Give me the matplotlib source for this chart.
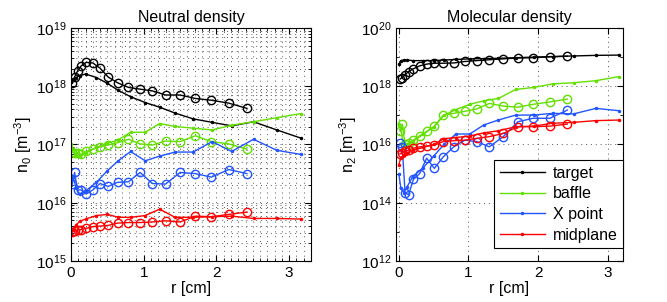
import numpy as np
import matplotlib
matplotlib.use('Agg')
from matplotlib import pyplot as plt
from matplotlib.ticker import LogLocator, MultipleLocator, NullFormatter

plt.rcParams['font.family'] = ['Liberation Sans', 'DejaVu Sans']
plt.rcParams['mathtext.fontset'] = 'custom'
plt.rcParams['mathtext.rm'] = 'Liberation Sans'
plt.rcParams['mathtext.it'] = 'Liberation Sans'

# radial grids (cm)
r_line = [0, 0.03, 0.07, 0.12, 0.2, 0.35, 0.5, 0.65, 0.82, 1.02, 1.22, 1.43, 1.68, 1.94, 2.21, 2.51, 2.83, 3.16]
r_circ = [0.02, 0.05, 0.09, 0.14, 0.21, 0.30, 0.40, 0.51, 0.64, 0.79, 0.95, 1.12, 1.30, 1.50, 1.71, 1.93, 2.17, 2.42]

# neutral density, log10(n0)
n0_target = [18.08, 18.12, 18.15, 18.18, 18.21, 18.15, 18.05, 17.93, 17.82, 17.72, 17.64, 17.54, 17.44, 17.38, 17.32, 17.39, 17.25, 17.11]
n0_baffle = [17.0, 16.92, 16.8, 16.8, 16.85, 16.95, 17.02, 17.08, 17.21, 17.21, 17.36, 17.31, 17.28, 17.25, 17.33, 17.39, 17.46, 17.53]
n0_xpoint = [16.3, 16.45, 16.25, 16.15, 16.2, 16.35, 16.55, 16.72, 16.88, 16.72, 16.8, 16.87, 16.87, 17.05, 16.88, 17.09, 16.9, 16.83]
n0_midplane = [15.45, 15.55, 15.62, 15.68, 15.72, 15.78, 15.8, 15.75, 15.75, 15.78, 15.89, 15.75, 15.75, 15.76, 15.77, 15.73, 15.73, 15.72]

n0c_target = [18.05, 18.16, 18.26, 18.35, 18.41, 18.40, 18.31, 18.16, 18.06, 17.98, 17.95, 17.92, 17.85, 17.85, 17.79, 17.76, 17.71, 17.62]
n0c_baffle = [16.87, 16.85, 16.86, 16.83, 16.88, 16.92, 16.96, 16.99, 17.03, 17.09, 17.01, 16.99, 17.06, 17.05, 17.15, 17.05, 17.01, 16.92]
n0c_xpoint = [16.33, 16.52, 16.22, 16.22, 16.15, 16.22, 16.33, 16.28, 16.35, 16.36, 16.52, 16.33, 16.32, 16.52, 16.50, 16.44, 16.57, 16.50]
n0c_midplane = [15.50, 15.51, 15.53, 15.54, 15.56, 15.59, 15.60, 15.61, 15.65, 15.66, 15.66, 15.67, 15.69, 15.67, 15.77, 15.76, 15.80, 15.84]

# molecular density, log10(n2)
n2_target = [18.75, 18.88, 18.9, 18.9, 18.88, 18.88, 18.88, 18.9, 18.92, 18.94, 18.95, 18.96, 18.98, 19.0, 19.02, 19.04, 19.06, 19.07]
n2_baffle = [16.7, 16.55, 15.9, 16.0, 16.1, 16.35, 16.6, 17.0, 17.2, 17.38, 17.5, 17.58, 17.89, 17.96, 18.08, 18.12, 18.19, 18.33]
n2_xpoint = [15.0, 14.5, 14.35, 14.55, 14.9, 15.2, 15.6, 16.0, 16.36, 16.36, 16.67, 16.84, 17.01, 17.01, 17.07, 17.05, 17.24, 17.16]
n2_midplane = [15.3, 15.55, 15.65, 15.72, 15.8, 15.9, 16.0, 16.2, 16.24, 16.29, 16.4, 16.47, 16.61, 16.63, 16.73, 16.76, 16.82, 16.84]

n2c_target = [18.25, 18.3, 18.4, 18.5, 18.6, 18.7, 18.76, 18.79, 18.79, 18.8, 18.85, 18.88, 18.91, 18.94, 18.97, 18.98, 19.01, 19.03]
n2c_baffle = [16.45, 16.7, 16.0, 16.05, 16.15, 16.3, 16.45, 16.62, 17.01, 17.07, 17.14, 17.22, 17.41, 17.32, 17.28, 17.38, 17.46, 17.56]
n2c_xpoint = [16.04, 15.9, 14.35, 14.27, 14.8, 15.0, 15.53, 15.18, 15.58, 15.92, 16.15, 16.1, 15.92, 16.27, 16.78, 16.9, 16.9, 17.18]
n2c_midplane = [15.68, 15.72, 15.76, 15.81, 15.87, 15.92, 15.95, 15.98, 16.1, 16.13, 16.15, 16.21, 16.27, 16.38, 16.61, 16.61, 16.63, 16.7]

names = ['target', 'baffle', 'X point', 'midplane']
colors = ['k', '#62e000', '#2255ff', '#ff0000']

fig = plt.figure(figsize=(6.67, 3.02), dpi=100)
ax1 = fig.add_axes([0.1064, 0.1358, 0.3598, 0.7715])
ax2 = fig.add_axes([0.5937, 0.1358, 0.3403, 0.7715])

lines0 = [n0_target, n0_baffle, n0_xpoint, n0_midplane]
circs0 = [n0c_target, n0c_baffle, n0c_xpoint, n0c_midplane]
lines2 = [n2_target, n2_baffle, n2_xpoint, n2_midplane]
circs2 = [n2c_target, n2c_baffle, n2c_xpoint, n2c_midplane]

for ax, ls, cs in [(ax1, lines0, circs0), (ax2, lines2, circs2)]:
    for name, c, l, ci in zip(names, colors, ls, cs):
        ax.semilogy(r_line, 10.0**np.array(l), '.-', color=c, ms=3, lw=1, label=name)
        ax.semilogy(r_circ, 10.0**np.array(ci), 'o-', color=c, ms=6, mfc='none', mew=1, lw=1)

gridstyle = dict(ls=(0, (1, 4)), color='0.35', lw=0.7)

# left panel
ax1.set_xlim(0, 3.3)
ax1.set_ylim(1e15, 1e19)
ax1.xaxis.set_major_locator(MultipleLocator(1))
ax1.xaxis.set_minor_locator(MultipleLocator(0.1))
ax1.yaxis.set_major_locator(LogLocator(base=10, numticks=10))
ax1.yaxis.set_minor_locator(LogLocator(base=10, subs=np.arange(2, 10), numticks=10))
ax1.yaxis.set_minor_formatter(NullFormatter())
ax1.grid(True, which='both', **gridstyle)
ax1.set_title('Neutral density', fontsize=11.5, pad=4)
ax1.set_xlabel('r [cm]', fontsize=11.5, labelpad=1)
ax1.set_ylabel('n$_0$ [m$^{-3}$]', fontsize=11.5, labelpad=1)

# right panel
ax2.set_xlim(-0.04, 3.22)
ax2.set_ylim(1e12, 1e20)
ax2.xaxis.set_major_locator(MultipleLocator(1))
ax2.xaxis.set_minor_locator(MultipleLocator(1))
ax2.set_yticks([1e12, 1e14, 1e16, 1e18, 1e20])
ax2.yaxis.set_minor_locator(LogLocator(base=10, subs=[1.0], numticks=20))
ax2.yaxis.set_minor_formatter(NullFormatter())
ax2.grid(True, which='major', **gridstyle)
ax2.set_title('Molecular density', fontsize=11.5, pad=4)
ax2.set_xlabel('r [cm]', fontsize=11.5, labelpad=1)
ax2.set_ylabel('n$_2$ [m$^{-3}$]', fontsize=11.5, labelpad=1)
leg = ax2.legend(loc='lower right', bbox_to_anchor=(1.0, 0.055), fontsize=11.5,
                 frameon=True, fancybox=False, edgecolor='k', framealpha=1,
                 borderaxespad=0.0, handlelength=2.8, handletextpad=0.5,
                 labelspacing=0.35, borderpad=0.35)
leg.get_frame().set_linewidth(0.8)

for ax in (ax1, ax2):
    ax.tick_params(which='both', direction='in', top=True, right=True, labelsize=11)
    ax.tick_params(which='major', length=4)
    ax.tick_params(which='minor', length=2)
    for s in ax.spines.values():
        s.set_linewidth(0.8)

plt.savefig('out.png', dpi=100)
